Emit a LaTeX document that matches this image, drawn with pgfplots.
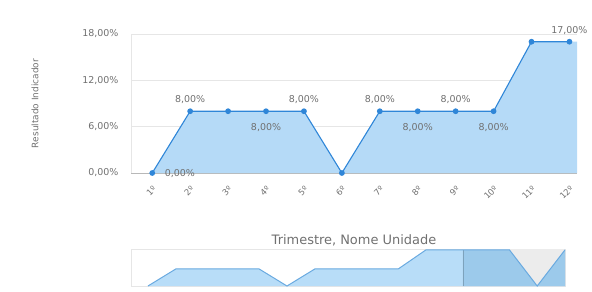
\documentclass[border=0pt]{standalone}
\usepackage{fontspec}
\setmainfont{DejaVu Sans}
\usepackage{pgfplots}
\pgfplotsset{compat=1.18}
\definecolor{areafill}{HTML}{B5DAF7}
\definecolor{lineblue}{HTML}{2F86D8}
\definecolor{gridc}{HTML}{E6E6E6}
\definecolor{textc}{HTML}{707070}
\definecolor{navline}{HTML}{6AAAE0}
\definecolor{navfill}{HTML}{B8DDF8}
\definecolor{navsel}{HTML}{9CCAEB}
\definecolor{navmask}{HTML}{ECECEC}
\begin{document}
\begin{tikzpicture}[x=1bp,y=1bp]
\useasboundingbox (0,0) rectangle (592,291);
\begin{axis}[
  at={(131bp,118bp)}, anchor=south west,
  scale only axis, width=446bp, height=139bp,
  xmin=0.44, xmax=12.2, ymin=0, ymax=18,
  ytick={0,6,12,18},
  yticklabels={{0,00\%},{6,00\%},{12,00\%},{18,00\%}},
  xtick={1,...,12},
  xticklabels={1º,2º,3º,4º,5º,6º,7º,8º,9º,10º,11º,12º},
  /pgf/number format/assume math mode=true,
  ticklabel style={font=\fontsize{9.5}{10}\selectfont, text=textc},
  xticklabel style={rotate=45, anchor=north east, font=\fontsize{8.5}{10}\selectfont},
  xticklabel shift=7bp,
  yticklabel style={xshift=-9bp},
  major tick length=0pt,
  ymajorgrids, grid style={gridc, line width=0.8bp},
  axis x line*=bottom, axis y line*=left,
  x axis line style={draw=gridc!80!black, line width=0.8bp, -},
  y axis line style={draw=gridc, line width=0.8bp, -},
  ylabel={Resultado Indicador},
  ylabel style={font=\fontsize{9}{10}\selectfont, text=textc, at={(axis description cs:-0.215,0.5)}, anchor=center, rotate=0},
  xlabel={Trimestre, Nome Unidade},
  xlabel style={font=\fontsize{13}{14}\selectfont, text=textc, at={(axis description cs:0.5,-0.482)}, anchor=center},
  clip=false,
]
\addplot[fill=areafill, draw=none] coordinates {
  (1,0) (2,8) (3,8) (4,8) (5,8) (6,0) (7,8) (8,8) (9,8) (10,8) (11,17) (12,17) (12.2,17) (12.2,0)
} \closedcycle;
\addplot[lineblue, line width=1.1bp, mark=*, mark size=2.3bp, mark options={fill=lineblue}] coordinates {
  (1,0) (2,8) (3,8) (4,8) (5,8) (6,0) (7,8) (8,8) (9,8) (10,8) (11,17) (12,17)
};
\addplot[draw=none, nodes near coords, point meta=explicit symbolic,
  nodes near coords style={font=\fontsize{9.5}{10}\selectfont, text=textc, anchor=south, yshift=4bp}]
  coordinates {(2,8)[8,00\%] (5,8)[8,00\%] (7,8)[8,00\%] (9,8)[8,00\%] (12,17)[17,00\%]};
\addplot[draw=none, nodes near coords, point meta=explicit symbolic,
  nodes near coords style={font=\fontsize{9.5}{10}\selectfont, text=textc, anchor=north, yshift=-9bp}]
  coordinates {(4,8)[8,00\%] (8,8)[8,00\%] (10,8)[8,00\%]};
\addplot[draw=none, nodes near coords, point meta=explicit symbolic,
  nodes near coords style={font=\fontsize{9.5}{10}\selectfont, text=textc, anchor=west, xshift=9bp, yshift=-1bp}]
  coordinates {(1,0)[0,00\%]};
\end{axis}
\begin{axis}[
  at={(131bp,5bp)}, anchor=south west,
  scale only axis, width=434bp, height=37bp,
  xmin=0.39, xmax=16, ymin=0, ymax=17.4,
  ticks=none,
  axis line style={draw=gridc, line width=0.8bp},
]
\addplot[fill=navmask, draw=none] coordinates {(12.33,0) (12.33,17.4) (16,17.4) (16,0)} \closedcycle;
\addplot[fill=navfill, draw=none] coordinates {
  (1,0) (2,8) (3,8) (4,8) (5,8) (6,0) (7,8) (8,8) (9,8) (10,8) (11,17) (12,17) (13,17) (14,17) (15,0) (16,17)
} \closedcycle;
\addplot[fill=navsel, draw=none] coordinates {
  (12.33,17) (13,17) (14,17) (15,0) (16,17)
} \closedcycle;
\addplot[draw=navsel!80!black, line width=0.6bp] coordinates {(12.33,0) (12.33,17)};
\addplot[navline, line width=1bp] coordinates {
  (1,0) (2,8) (3,8) (4,8) (5,8) (6,0) (7,8) (8,8) (9,8) (10,8) (11,17) (12,17) (13,17) (14,17) (15,0) (16,17)
};
\end{axis}
\end{tikzpicture}
\end{document}
